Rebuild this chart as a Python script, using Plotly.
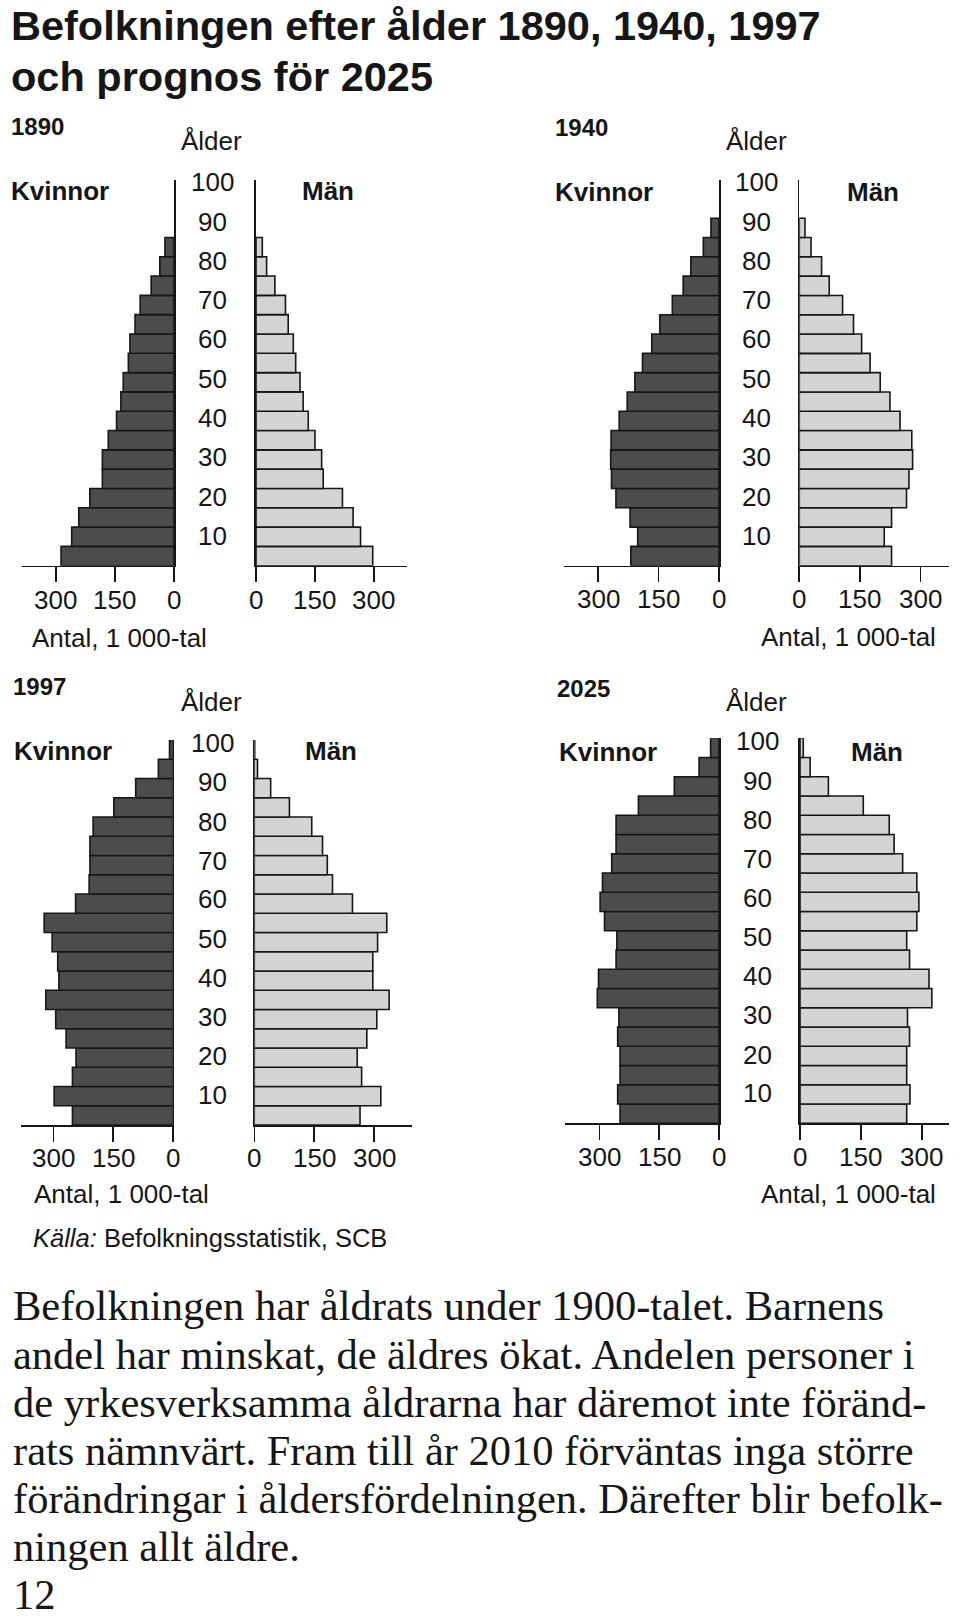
import plotly.graph_objects as go

# ---------------- data (thousands, youngest age group first) ----------------
AGE_GROUPS = ["0-4", "5-9", "10-14", "15-19", "20-24", "25-29", "30-34", "35-39",
              "40-44", "45-49", "50-54", "55-59", "60-64", "65-69", "70-74",
              "75-79", "80-84", "85-89", "90-94", "95-99"]

YEARS = ["1890", "1940", "1997", "2025"]

women_1890 = [287, 260, 242, 214, 182, 182, 167, 146, 135, 129, 116, 112, 99, 86, 58, 36, 23]
men_1890 = [297, 266, 247, 220, 171, 167, 150, 133, 120, 112, 101, 95, 82, 75, 48, 27, 16]

women_1940 = [219, 202, 221, 256, 267, 269, 268, 248, 228, 209, 190, 167, 147, 116, 89, 70, 39, 20]
men_1940 = [228, 210, 228, 265, 271, 280, 278, 249, 224, 200, 175, 154, 134, 107, 74, 55, 29, 14]

women_1997 = [252, 298, 252, 243, 268, 294, 319, 286, 289, 303, 323, 244, 210, 208, 208, 200, 148, 93, 36, 8]
men_1997 = [265, 317, 269, 258, 282, 307, 338, 297, 297, 309, 332, 246, 196, 183, 171, 144, 88, 41, 8, 1]

women_2025 = [248, 254, 248, 248, 254, 251, 305, 302, 258, 256, 287, 298, 292, 269, 258, 258, 202, 112, 50, 21]
men_2025 = [263, 271, 263, 263, 270, 265, 325, 318, 270, 263, 288, 293, 288, 253, 232, 220, 156, 70, 25, 8]

AXIS_TICKS = [0, 150, 300]
AGE_LABELS = ["10", "20", "30", "40", "50", "60", "70", "80", "90", "100"]

TITLE_LINES = ["Befolkningen efter ålder 1890, 1940, 1997", "och prognos för 2025"]
BODY_LINES = [
    "Befolkningen har åldrats under 1900-talet. Barnens",
    "andel har minskat, de äldres ökat. Andelen personer i",
    "de yrkesverksamma åldrarna har däremot inte föränd-",
    "rats nämnvärt. Fram till år 2010 förväntas inga större",
    "förändringar i åldersfördelningen. Därefter blir befolk-",
    "ningen allt äldre.",
]
PAGE_NO = "12"

# ---------------- layout constants (page pixels) ----------------
W, H = 960, 1618
SANS = "Liberation Sans, Arial, sans-serif"
SERIF = "Liberation Serif, Times New Roman, serif"
INK = "#161616"
WOMEN_FILL = "#4c4c4c"
MEN_FILL = "#d4d4d4"

# age-label vertical placement (in age units) as printed
LABEL_AGE_POS = [7.8, 17.8, 28.1, 38.2, 48.4, 58.6, 68.7, 78.8, 89.0, 99.3]


def px(x):
    return x / W


def py(y):
    return 1 - y / H


panels = [
    dict(year="1890", women=women_1890, men=men_1890,
         wx=(21.7, 174.0), wr=387, mx=(256.0, 407.3), mr=385, y0=565.7, y1=179.5,
         year_xy=(9, 126), alder_xy=(211.5, 141), kv_xy=(9.3, 191), man_xy=(328, 191),
         age_x=212, tick_y=600, antal_xy=(30, 638), antal_anchor="left"),
    dict(year="1940", women=women_1940, men=men_1940,
         wx=(564.0, 719.0), wr=385, mx=(799.3, 949.0), mr=370, y0=565.7, y1=179.6,
         year_xy=(553, 127), alder_xy=(756.7, 141), kv_xy=(553.3, 192), man_xy=(873.3, 192),
         age_x=756.5, tick_y=599, antal_xy=(938.3, 637), antal_anchor="right"),
    dict(year="1997", women=women_1997, men=men_1997,
         wx=(20.7, 172.7), wr=382, mx=(254.3, 411.7), mr=394.5, y0=1125.0, y1=740.0,
         year_xy=(11, 687), alder_xy=(211.3, 702), kv_xy=(11.7, 751), man_xy=(331.2, 751),
         age_x=212, tick_y=1157.5, antal_xy=(31.7, 1194), antal_anchor="left"),
    dict(year="2025", women=women_2025, men=men_2025,
         wx=(565.0, 719.0), wr=386, mx=(800.0, 949.3), mr=368, y0=1123.3, y1=738.3,
         year_xy=(555, 688), alder_xy=(756.7, 702), kv_xy=(556.7, 752.5), man_xy=(876.7, 752.5),
         age_x=757, tick_y=1156.5, antal_xy=(938.3, 1194), antal_anchor="right"),
]

fig = go.Figure()
annotations = []
layout_axes = {}


def age_mid(i):
    lo = int(AGE_GROUPS[i].split("-")[0])
    return lo + 2.5


def txt(text, x, y, size, anchor="left", family=SANS, xref="paper", yref="paper"):
    return dict(text=text, x=x, y=y, xref=xref, yref=yref, xanchor=anchor,
                yanchor="middle", showarrow=False,
                font=dict(family=family, size=size, color=INK))


for p_i, p in enumerate(panels):
    kw = 2 * p_i + 1
    km = 2 * p_i + 2
    xw, yw = f"x{kw}", f"y{kw}"
    xm, ym = f"x{km}", f"y{km}"

    ys_w = [age_mid(i) for i in range(len(p["women"]))]
    ys_m = [age_mid(i) for i in range(len(p["men"]))]

    fig.add_trace(go.Bar(
        x=p["women"], y=ys_w, orientation="h", width=5,
        marker=dict(color=WOMEN_FILL, line=dict(color=INK, width=1.6)),
        xaxis=xw, yaxis=yw, showlegend=False, hoverinfo="skip",
    ))
    fig.add_trace(go.Bar(
        x=p["men"], y=ys_m, orientation="h", width=5,
        marker=dict(color=MEN_FILL, line=dict(color=INK, width=1.6)),
        xaxis=xm, yaxis=ym, showlegend=False, hoverinfo="skip",
    ))

    xcommon = dict(showline=True, linecolor=INK, linewidth=1.6,
                   ticks="outside", ticklen=15, tickwidth=1.6, tickcolor=INK,
                   tickvals=AXIS_TICKS, showticklabels=False,
                   showgrid=False, zeroline=False, fixedrange=True)
    ydom = [py(p["y0"]), py(p["y1"])]
    ycommon = dict(domain=ydom, range=[0, 100], showline=True, linecolor=INK,
                   linewidth=1.6, ticks="", showticklabels=False,
                   showgrid=False, zeroline=False, fixedrange=True)

    layout_axes[f"xaxis{kw}"] = dict(xcommon, domain=[px(p["wx"][0]), px(p["wx"][1])],
                                      range=[p["wr"], 0], anchor=yw)
    layout_axes[f"xaxis{km}"] = dict(xcommon, domain=[px(p["mx"][0]), px(p["mx"][1])],
                                      range=[0, p["mr"]], anchor=ym)
    layout_axes[f"yaxis{kw}"] = dict(ycommon, anchor=xw, side="right")
    layout_axes[f"yaxis{km}"] = dict(ycommon, anchor=xm, side="left")

    # tick labels under the two horizontal axes
    for t in AXIS_TICKS:
        annotations.append(txt(str(t), t, py(p["tick_y"]), 26, "center", xref=xw))
        annotations.append(txt(str(t), t, py(p["tick_y"]), 26, "center", xref=xm))

    annotations.append(txt(f"<b>{p['year']}</b>", px(p["year_xy"][0]), py(p["year_xy"][1]), 24))
    annotations.append(txt("Ålder", px(p["alder_xy"][0]), py(p["alder_xy"][1]), 26, "center"))
    annotations.append(txt("<b>Kvinnor</b>", px(p["kv_xy"][0]), py(p["kv_xy"][1]), 26))
    annotations.append(txt("<b>Män</b>", px(p["man_xy"][0]), py(p["man_xy"][1]), 26, "center"))
    for lab, pos in zip(AGE_LABELS, LABEL_AGE_POS):
        annotations.append(txt(lab, px(p["age_x"]), pos, 26, "center", yref=yw))
    annotations.append(txt("Antal, 1 000-tal", px(p["antal_xy"][0]), py(p["antal_xy"][1]), 26,
                           p["antal_anchor"]))

# source line
annotations.append(txt("<i>Källa:</i> Befolkningsstatistik, SCB", px(31), py(1238), 25.5))

# title
for line, yc in zip(TITLE_LINES, [25, 76]):
    annotations.append(txt(f"<b>{line}</b>", px(9), py(yc), 41.5))

# body text
for line, yc in zip(BODY_LINES, [1305, 1354, 1402, 1450, 1498, 1546]):
    annotations.append(txt(line, px(11), py(yc), 42.5, family=SERIF))
annotations.append(txt(PAGE_NO, px(11), py(1594), 42.5, family=SERIF))

fig.update_layout(
    width=W, height=H, margin=dict(l=0, r=0, t=0, b=0, pad=0),
    paper_bgcolor="white", plot_bgcolor="white",
    bargap=0, annotations=annotations, showlegend=False,
    **layout_axes,
)

# place the plot flush with the page corner (no default body margin), no toolbar
fig.write_html("out.html", config={"displayModeBar": False, "staticPlot": True},
               post_script="document.body.style.margin='0px';")
